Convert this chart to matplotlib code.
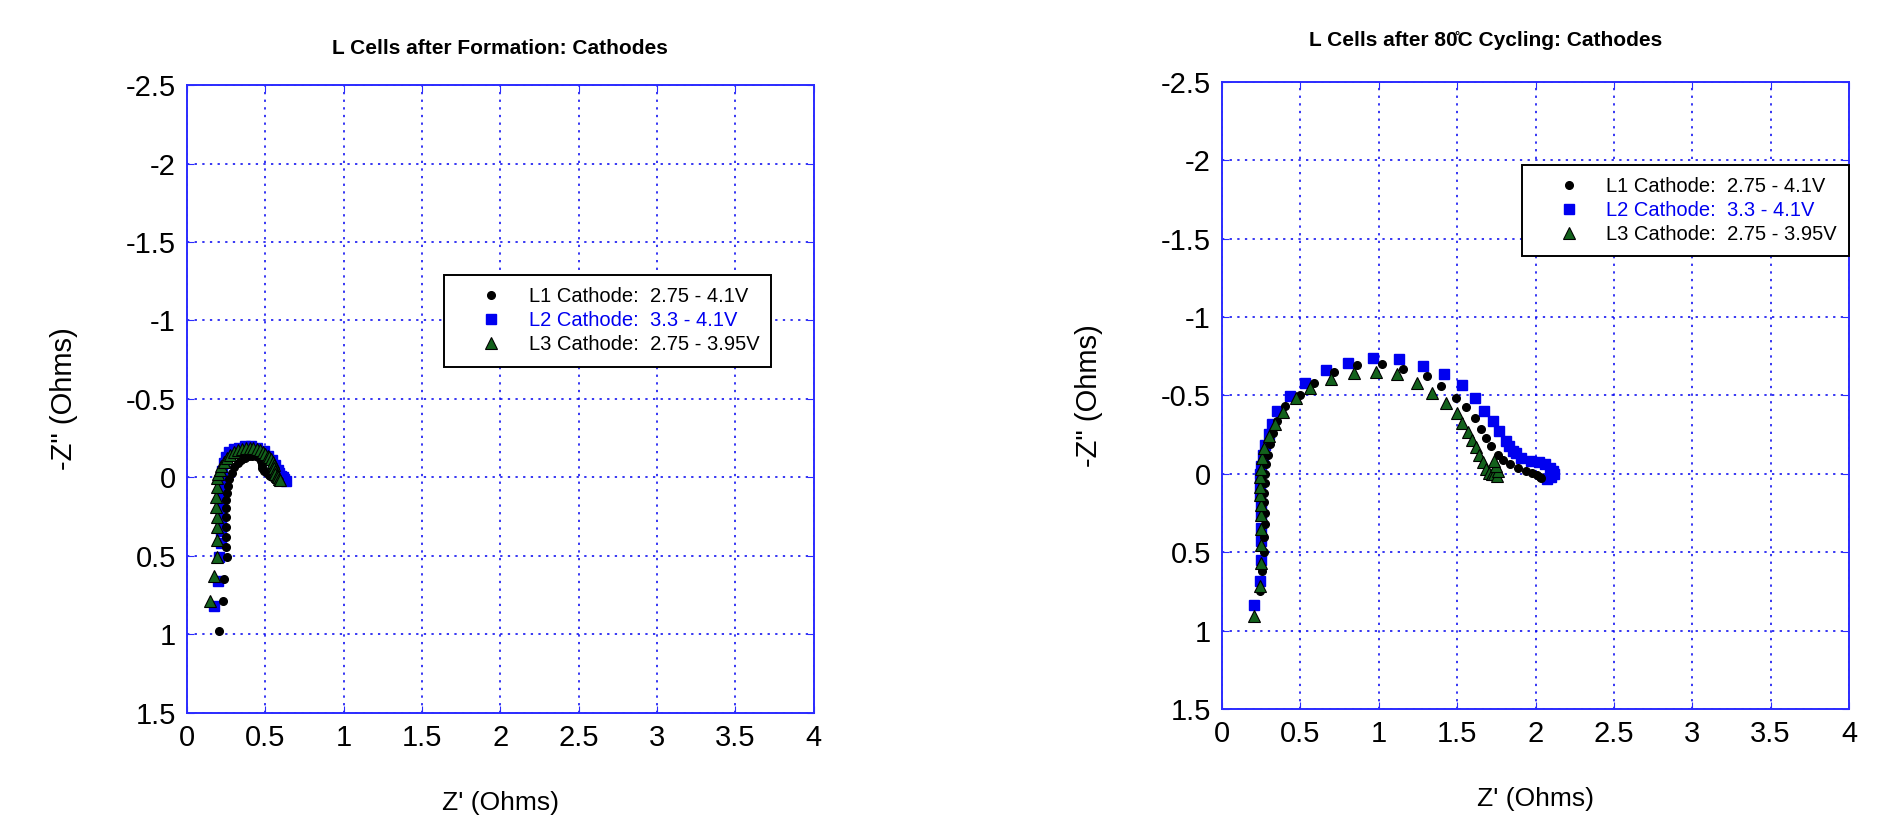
import numpy as np
import matplotlib
matplotlib.use('Agg')
import matplotlib.pyplot as plt
from matplotlib.ticker import FormatStrFormatter

plt.rcParams['font.family'] = ['Liberation Sans', 'DejaVu Sans']
plt.rcParams['axes.unicode_minus'] = False

# Nyquist data after formation (Z' real, Z'' imaginary, Ohms)
form_l1_re = [0.202, 0.228, 0.234, 0.255, 0.25, 0.249, 0.248, 0.249, 0.25, 0.252, 0.255, 0.26,
              0.27, 0.285, 0.303, 0.325, 0.348, 0.372, 0.396, 0.418, 0.438, 0.455, 0.466, 0.474,
              0.478, 0.476, 0.48, 0.49, 0.51, 0.526, 0.545, 0.568, 0.58, 0.59, 0.575, 0.555, 0.53]
form_l1_im = [0.979, 0.786, 0.647, 0.509, 0.44, 0.38, 0.315, 0.252, 0.195, 0.145, 0.10, 0.055,
              0.01, -0.03, -0.065, -0.09, -0.11, -0.125, -0.135, -0.14, -0.14, -0.133, -0.122, -0.108,
              -0.095, -0.078, -0.058, -0.04, -0.026, -0.015, -0.004, 0.006, 0.017, 0.017, 0.01, 0.0, -0.01]

form_l2_re = [0.174, 0.196, 0.206, 0.215, 0.22, 0.22, 0.22, 0.215, 0.215, 0.22, 0.225, 0.235,
              0.25, 0.27, 0.30, 0.33, 0.37, 0.41, 0.45, 0.49, 0.52, 0.545, 0.565, 0.58, 0.59,
              0.60, 0.61, 0.62, 0.63]
form_l2_im = [0.818, 0.658, 0.509, 0.42, 0.34, 0.27, 0.20, 0.13, 0.07, 0.01, -0.04, -0.09,
              -0.13, -0.16, -0.18, -0.19, -0.20, -0.20, -0.19, -0.17, -0.14, -0.11, -0.08, -0.05,
              -0.03, -0.01, 0.0, 0.01, 0.02]

form_l3_re = [0.147, 0.174, 0.19, 0.19, 0.195, 0.19, 0.186, 0.188, 0.19, 0.195, 0.20, 0.21, 0.22,
              0.235, 0.255, 0.275, 0.30, 0.325, 0.35, 0.377, 0.40, 0.42, 0.445, 0.466, 0.485, 0.50,
              0.515, 0.526, 0.537, 0.547, 0.553, 0.557, 0.56, 0.565, 0.572, 0.58, 0.588, 0.595]
form_l3_im = [0.786, 0.626, 0.509, 0.40, 0.316, 0.25, 0.188, 0.124, 0.06, 0.006, -0.02, -0.047, -0.075,
              -0.10, -0.125, -0.145, -0.163, -0.175, -0.182, -0.186, -0.188, -0.186, -0.18, -0.173, -0.163, -0.152,
              -0.14, -0.128, -0.115, -0.10, -0.08, -0.058, -0.04, -0.025, -0.012, 0.0, 0.01, 0.018]

# Nyquist data after 80C cycling
cyc_l1_re = [0.245, 0.255, 0.265, 0.27, 0.272, 0.272, 0.27, 0.27, 0.272, 0.275, 0.28, 0.29, 0.305,
             0.325, 0.351, 0.404, 0.496, 0.585, 0.713, 0.862, 1.022, 1.157, 1.31, 1.40, 1.49, 1.555,
             1.615, 1.65, 1.683, 1.715, 1.758, 1.79, 1.84, 1.89, 1.94, 1.98, 2.01, 2.03, 2.035]
cyc_l1_im = [0.75, 0.62, 0.50, 0.40, 0.32, 0.25, 0.18, 0.12, 0.06, 0.0, -0.06, -0.12, -0.19,
             -0.26, -0.336, -0.432, -0.506, -0.581, -0.651, -0.694, -0.702, -0.666, -0.623, -0.56, -0.485, -0.425,
             -0.353, -0.289, -0.23, -0.177, -0.123, -0.091, -0.06, -0.04, -0.02, -0.005, 0.01, 0.02, 0.026]

cyc_l2_re = [0.2015, 0.244, 0.248, 0.25, 0.25, 0.248, 0.248, 0.244, 0.244, 0.244, 0.248, 0.259, 0.276,
             0.297, 0.319, 0.351, 0.436, 0.526, 0.66, 0.803, 0.965, 1.129, 1.285, 1.413, 1.528, 1.613,
             1.673, 1.726, 1.769, 1.811, 1.833, 1.854, 1.875, 1.907, 1.971, 2.02, 2.06, 2.09, 2.11,
             2.12, 2.1, 2.07]
cyc_l2_im = [0.834, 0.681, 0.547, 0.43, 0.345, 0.26, 0.196, 0.132, 0.068, 0.004, -0.049, -0.123, -0.187,
             -0.251, -0.315, -0.40, -0.496, -0.581, -0.66, -0.709, -0.736, -0.73, -0.687, -0.634, -0.564, -0.481,
             -0.404, -0.336, -0.272, -0.209, -0.177, -0.145, -0.134, -0.102, -0.085, -0.075, -0.06, -0.04, -0.02,
             0.0, 0.02, 0.03]

cyc_l3_re = [0.2015, 0.24, 0.248, 0.248, 0.25, 0.248, 0.248, 0.244, 0.244, 0.244, 0.248, 0.255, 0.265,
             0.297, 0.336, 0.389, 0.474, 0.564, 0.692, 0.841, 0.98, 1.114, 1.246, 1.342, 1.427, 1.496,
             1.534, 1.566, 1.592, 1.62, 1.64, 1.662, 1.683, 1.704, 1.72, 1.737, 1.755, 1.758, 1.75, 1.737]
cyc_l3_im = [0.908, 0.717, 0.568, 0.451, 0.355, 0.26, 0.196, 0.136, 0.083, 0.021, -0.034, -0.098, -0.166,
             -0.24, -0.319, -0.396, -0.485, -0.549, -0.602, -0.645, -0.651, -0.634, -0.581, -0.517, -0.453, -0.389,
             -0.326, -0.268, -0.219, -0.17, -0.123, -0.077, -0.028, -0.006, 0.0, 0.004, 0.012, -0.02, -0.05, -0.08]

labels = ['L1 Cathode:  2.75 - 4.1V', 'L2 Cathode:  3.3 - 4.1V', 'L3 Cathode:  2.75 - 3.95V']
titles = ['L Cells after Formation: Cathodes', 'L Cells after 80\u030aC Cycling: Cathodes']

blue = '#0000f0'
edge_blue = '#2b2bff'
green = '#13621c'

fig = plt.figure(figsize=(18.9, 8.23), dpi=100)
ax1 = fig.add_axes([0.0989, 0.1337, 0.3317, 0.763])
ax2 = fig.add_axes([0.6466, 0.1385, 0.3317, 0.762])


def draw(ax, l1, l2, l3, title, title_x, title_pad, ylab_pad, leg_pos):
    h2, = ax.plot(l2[0], l2[1], 's', color=blue, ms=7.5, ls='none', zorder=3)
    h1, = ax.plot(l1[0], l1[1], 'o', color='black', ms=5.5, ls='none', zorder=4)
    h3, = ax.plot(l3[0], l3[1], '^', color=green, mec='black', mew=0.8, ms=8.5, ls='none', zorder=5)

    ax.set_xlim(0, 4)
    ax.set_ylim(1.5, -2.5)
    ax.set_xticks(np.arange(0, 4.01, 0.5))
    ax.set_yticks(np.arange(-2.5, 1.51, 0.5))
    ax.xaxis.set_major_formatter(FormatStrFormatter('%g'))
    ax.yaxis.set_major_formatter(FormatStrFormatter('%g'))
    ax.set_axisbelow(True)
    ax.grid(True, color=blue, linestyle=(0, (1.5, 3.5)), linewidth=1.1)
    for s in ax.spines.values():
        s.set_color(edge_blue)
        s.set_linewidth(1.4)
    ax.tick_params(direction='in', top=True, right=True, color=edge_blue, length=5,
                   labelsize=21, pad=8)
    ax.set_xlabel("Z' (Ohms)", fontsize=19, labelpad=28)
    ax.set_ylabel('-Z" (Ohms)', fontsize=21, labelpad=ylab_pad)
    ax.set_title(title, fontsize=15, fontweight='bold', pad=title_pad, x=title_x)

    leg = ax.legend([h1, h2, h3], labels, loc='upper left', bbox_to_anchor=leg_pos,
                    fontsize=14.5, frameon=True, fancybox=False, edgecolor='black',
                    framealpha=1, borderpad=0.6, labelspacing=0.25, handlelength=3.5,
                    handletextpad=0.1, borderaxespad=0)
    leg.get_frame().set_linewidth(1.4)
    leg.get_texts()[1].set_color(blue)


draw(ax1, (form_l1_re, form_l1_im), (form_l2_re, form_l2_im), (form_l3_re, form_l3_im),
     titles[0], 0.5, 22, 34, (0.41, 0.697))
draw(ax2, (cyc_l1_re, cyc_l1_im), (cyc_l2_re, cyc_l2_im), (cyc_l3_re, cyc_l3_im),
     titles[1], 0.421, 26, 42, (0.478, 0.868))

fig.savefig('out.png', dpi=100)
